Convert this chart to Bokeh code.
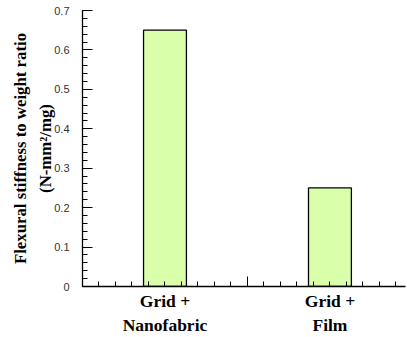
from bokeh.plotting import figure
from bokeh.models import FixedTicker, LinearAxis, Range1d, CustomJSTickFormatter
from bokeh.embed import file_html
from bokeh.resources import INLINE

categories = ["Grid +\nNanofabric", "Grid +\nFilm"]
positions = [0.5, 1.5]
values = [0.65, 0.25]
y_ticks = [0, 0.1, 0.2, 0.3, 0.4, 0.5, 0.6, 0.7]
y_tick_labels = ["0", "0.1", "0.2", "0.3", "0.4", "0.5", "0.6", "0.7"]

p = figure(width=407, height=337, output_backend="svg", toolbar_location=None,
           x_range=Range1d(0, 1.958), y_range=Range1d(0, 0.7),
           x_axis_type=None, y_axis_type=None,
           min_border_left=82, min_border_right=2, min_border_top=10, min_border_bottom=51)
p.outline_line_color = None
p.xgrid.visible = False
p.ygrid.visible = False

p.vbar(x=positions, top=values, width=0.26, fill_color="#d9ffaa",
       line_color="black", line_width=1.3)

# y axis
yax = LinearAxis(ticker=FixedTicker(ticks=y_ticks,
                                    minor_ticks=[round(i * 0.02, 2) for i in range(36)]))
yax.major_label_overrides = {t: l for t, l in zip(y_ticks, y_tick_labels)}
yax.major_tick_in = 10
yax.major_tick_out = 0
yax.minor_tick_in = 5
yax.minor_tick_out = 0
yax.major_tick_line_color = "black"
yax.minor_tick_line_color = "black"
yax.major_label_standoff = 13
yax.major_label_text_font = "Liberation Sans"
yax.major_label_text_font_size = "11px"
yax.major_label_text_color = "#333333"
yax.axis_line_width = 1.3
yax.axis_line_color = "black"
yax.axis_label = "Flexural stiffness to weight ratio\n(N-mm\u00b2/mg)"
yax.axis_label_text_font = "Liberation Serif"
yax.axis_label_text_font_style = "bold"
yax.axis_label_text_font_size = "16.8px"
yax.axis_label_text_color = "black"
yax.axis_label_text_line_height = 1.35
yax.axis_label_standoff = -4
p.add_layout(yax, "left")

# x axis (ticks only)
xax = LinearAxis(ticker=FixedTicker(ticks=[0, 1, 2],
                                    minor_ticks=[round(i * 0.1, 1) for i in range(20)]),
                 formatter=CustomJSTickFormatter(code="return ''"))
xax.major_tick_in = 10
xax.major_tick_out = 0
xax.minor_tick_in = 5
xax.minor_tick_out = 0
xax.major_tick_line_color = "black"
xax.minor_tick_line_color = "black"
xax.major_label_standoff = 0
xax.axis_line_width = 1.3
xax.axis_line_color = "black"
p.add_layout(xax, "below")

# category labels
cax = LinearAxis(ticker=FixedTicker(ticks=positions))
cax.major_label_overrides = {pos: c for pos, c in zip(positions, categories)}
cax.axis_line_color = None
cax.major_tick_line_color = None
cax.minor_tick_line_color = None
cax.major_tick_in = 0
cax.major_tick_out = 0
cax.major_label_standoff = 4
cax.major_label_text_font = "Liberation Serif"
cax.major_label_text_font_style = "bold"
cax.major_label_text_font_size = "17.5px"
cax.major_label_text_color = "black"
cax.major_label_text_line_height = 1.2
p.add_layout(cax, "below")

open("out.html", "w").write(file_html(p, INLINE))
